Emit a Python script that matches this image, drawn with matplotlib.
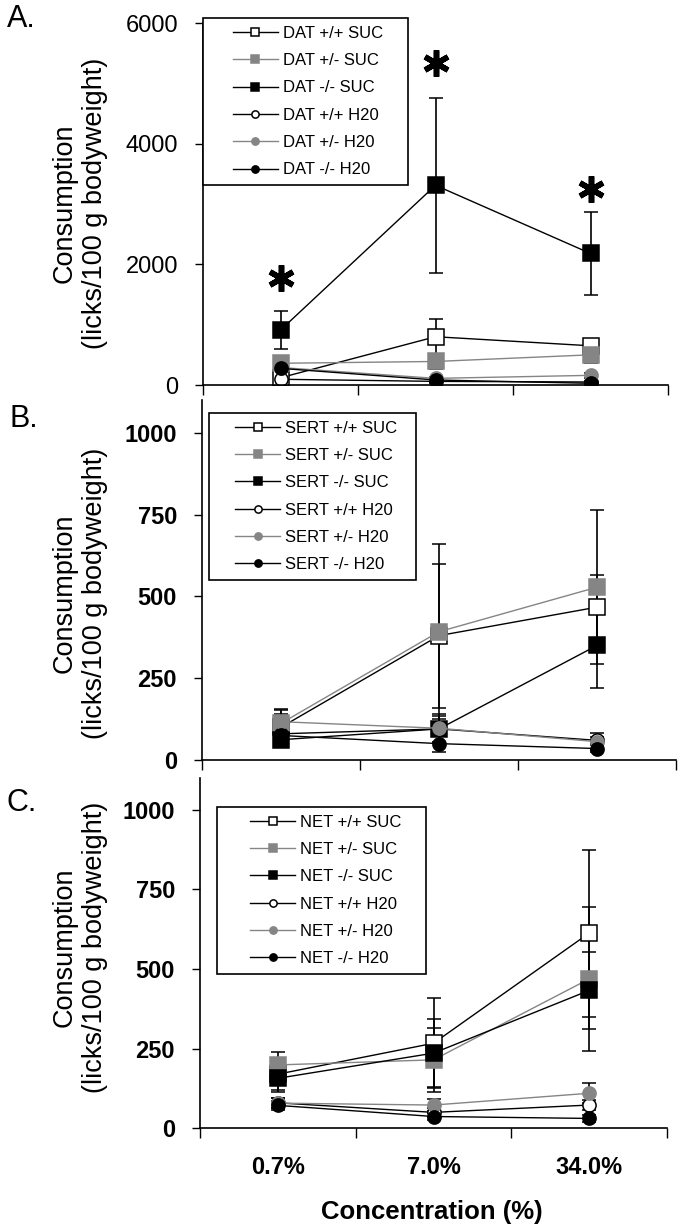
import matplotlib
matplotlib.use('Agg')
import matplotlib.pyplot as plt
from matplotlib.lines import Line2D
from matplotlib.legend_handler import HandlerLine2D

plt.rcParams['font.family'] = ['Liberation Sans', 'DejaVu Sans']

# ---------------- data ----------------
concentrations = ['0.7%', '7.0%', '34.0%']
genotypes = ['+/+ SUC', '+/- SUC', '-/- SUC', '+/+ H20', '+/- H20', '-/- H20']

# Panel A: DAT
dat_wt_suc = [120, 800, 650]
dat_wt_suc_err = [40, 300, 60]
dat_het_suc = [360, 390, 500]
dat_het_suc_err = [50, 120, 130]
dat_ko_suc = [910, 3310, 2180]
dat_ko_suc_err = [310, 1450, 690]
dat_wt_h2o = [95, 60, 50]
dat_wt_h2o_err = [20, 20, 20]
dat_het_h2o = [290, 110, 160]
dat_het_h2o_err = [40, 30, 40]
dat_ko_h2o = [276, 83, 28]
dat_ko_h2o_err = [40, 30, 15]
dat_asterisk_y = [1780, 5330, 3250]

# Panel B: SERT
sert_wt_suc = [100, 380, 467]
sert_wt_suc_err = [40, 220, 98]
sert_het_suc = [112, 392, 528]
sert_het_suc_err = [45, 268, 236]
sert_ko_suc = [62, 95, 350]
sert_ko_suc_err = [20, 40, 130]
sert_wt_h2o = [80, 95, 60]
sert_wt_h2o_err = [15, 20, 10]
sert_het_h2o = [117, 97, 56]
sert_het_h2o_err = [36, 43, 26]
sert_ko_h2o = [75, 50, 35]
sert_ko_h2o_err = [15, 25, 10]

# Panel C: NET
net_wt_suc = [170, 267, 613]
net_wt_suc_err = [50, 142, 262]
net_het_suc = [199, 215, 469]
net_het_suc_err = [42, 100, 225]
net_ko_suc = [157, 236, 433]
net_ko_suc_err = [42, 107, 122]
net_wt_h2o = [80, 50, 73]
net_wt_h2o_err = [15, 15, 15]
net_het_h2o = [79, 73, 110]
net_het_h2o_err = [15, 20, 32]
net_ko_h2o = [72, 37, 31]
net_ko_h2o_err = [15, 10, 10]

# ---------------- styles ----------------
GRAY = '#858585'
styles = [
    dict(marker='s', mfc='white', mec='black', color='black', ms=11.5),
    dict(marker='s', mfc=GRAY, mec=GRAY, color=GRAY, ms=11.5),
    dict(marker='s', mfc='black', mec='black', color='black', ms=11.5),
    dict(marker='o', mfc='white', mec='black', color='black', ms=9.5),
    dict(marker='o', mfc=GRAY, mec=GRAY, color=GRAY, ms=9.5),
    dict(marker='o', mfc='black', mec='black', color='black', ms=9.5),
]

W, H = 690, 1229
fig = plt.figure(figsize=(W / 100, H / 100), dpi=100)


def px_axes(x0, x1, ytop, ybot):
    return fig.add_axes([x0 / W, 1 - ybot / H, (x1 - x0) / W, (ybot - ytop) / H])


panels = [
    dict(name='DAT', box=(203, 668, 23, 385), ymax=6000, yticks=[0, 2000, 4000, 6000], tickbold=False,
         series=[(dat_wt_suc, dat_wt_suc_err), (dat_het_suc, dat_het_suc_err), (dat_ko_suc, dat_ko_suc_err),
                 (dat_wt_h2o, dat_wt_h2o_err), (dat_het_h2o, dat_het_h2o_err), (dat_ko_h2o, dat_ko_h2o_err)],
         legpx=(203, 18, 408, 186), hoff=30, letter='A.', letterpos=(7, 19), ylabel_y=203),
    dict(name='SERT', box=(202, 676, 400, 760), ymax=1100, yticks=[0, 250, 500, 750, 1000], tickbold=True,
         series=[(sert_wt_suc, sert_wt_suc_err), (sert_het_suc, sert_het_suc_err), (sert_ko_suc, sert_ko_suc_err),
                 (sert_wt_h2o, sert_wt_h2o_err), (sert_het_h2o, sert_het_h2o_err), (sert_ko_h2o, sert_ko_h2o_err)],
         legpx=(209, 413, 416, 580), hoff=26, letter='B.', letterpos=(10, 419), ylabel_y=593),
    dict(name='NET', box=(200, 667, 778, 1128.3), ymax=1100, yticks=[0, 250, 500, 750, 1000], tickbold=True,
         series=[(net_wt_suc, net_wt_suc_err), (net_het_suc, net_het_suc_err), (net_ko_suc, net_ko_suc_err),
                 (net_wt_h2o, net_wt_h2o_err), (net_het_h2o, net_het_h2o_err), (net_ko_h2o, net_ko_h2o_err)],
         legpx=(217, 807, 426, 979), hoff=33, letter='C.', letterpos=(7, 803), ylabel_y=947),
]

xpos = [0.5, 1.5, 2.5]
FS_LEG = 12
fs_px = FS_LEG * 100 / 72

for i, p in enumerate(panels):
    x0, x1, yt, yb = p['box']
    ax = px_axes(x0, x1, yt, yb)
    ax.set_xlim(0, 3)
    ax.set_ylim(0, p['ymax'])
    for s in ['top', 'right']:
        ax.spines[s].set_visible(False)
    for s in ['left', 'bottom']:
        ax.spines[s].set_linewidth(1.2)
    ax.set_yticks(p['yticks'])
    ax.set_yticklabels([str(v) for v in p['yticks']],
                       fontweight='bold' if p['tickbold'] else 'normal', fontsize=17)
    ax.tick_params(axis='y', direction='out', length=6, width=1.0, pad=12)
    ax.set_xticks([0, 1, 2, 3])
    ax.set_xticklabels([])
    ax.tick_params(axis='x', direction='out', length=7, width=1.0)
    if i == 2:
        ax.set_xticks(xpos, minor=True)
        ax.set_xticklabels(concentrations, minor=True, fontweight='bold', fontsize=17)
        ax.tick_params(axis='x', which='minor', length=0, pad=20)

    handles = []
    for (mean, err), st, g in zip(p['series'], styles, genotypes):
        ax.errorbar(xpos, mean, yerr=err, marker=st['marker'], ms=st['ms'], mfc=st['mfc'], mec=st['mec'],
                    color=st['color'], lw=1.0, ecolor='black', elinewidth=1.2, capsize=5, capthick=1.2,
                    mew=1.1, clip_on=True)
        handles.append(Line2D([], [], marker=st['marker'], ms=st['ms'], mfc=st['mfc'], mec=st['mec'],
                              color=st['color'], lw=1.0, mew=1.1, label=f"{p['name']} {g}"))

    if i == 0:
        ax.plot(xpos, dat_asterisk_y, linestyle='none', marker=(6, 2, 0), ms=19, mew=4, color='black')

    lx, ly, lx2, ly2 = p['legpx']
    bp = 0.46
    xpad_px = p['hoff'] - bp * fs_px
    leg = ax.legend(handles=handles, loc='upper left',
                    bbox_to_anchor=((lx - x0) / (x1 - x0), (yb - ly2) / (yb - yt),
                                    (lx2 - lx) / (x1 - x0), (ly2 - ly) / (yb - yt)),
                    mode='expand',
                    borderaxespad=0, fontsize=FS_LEG, markerscale=0.55,
                    handlelength=(45 + xpad_px) / fs_px,
                    handletextpad=0.3, labelspacing=0.74, borderpad=bp, fancybox=False,
                    edgecolor='black', framealpha=1,
                    handler_map={Line2D: HandlerLine2D(xpad=xpad_px / fs_px)})
    leg.get_frame().set_linewidth(1.2)

    fig.text(p['letterpos'][0] / W, 1 - p['letterpos'][1] / H, p['letter'], fontsize=22,
             ha='left', va='center')
    fig.text(80 / W, 1 - p['ylabel_y'] / H, 'Consumption\n(licks/100 g bodyweight)', rotation=90,
             fontsize=19.5, ha='center', va='center', multialignment='center', linespacing=1.2)

fig.text(432 / W, 1 - 1212 / H, 'Concentration (%)', fontsize=18.5, fontweight='bold',
         ha='center', va='center')

fig.savefig('out.png', dpi=100)
